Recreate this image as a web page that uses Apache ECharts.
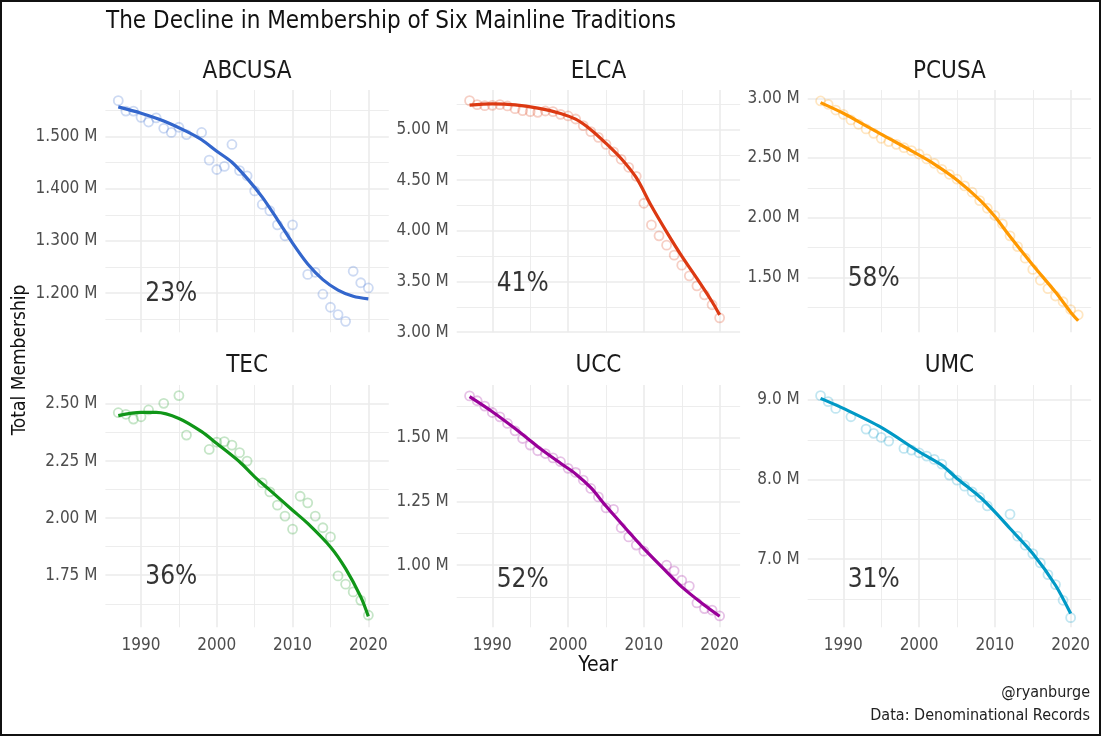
<!DOCTYPE html>
<html>
<head>
<meta charset="utf-8">
<script src="https://cdn.jsdelivr.net/npm/echarts@6/dist/echarts.min.js"></script>
<style>
  html, body { margin: 0; padding: 0; background: #fff; }
  #chart { position: absolute; left: 0; top: 0; width: 1101px; height: 736px; }
  #frame { position: absolute; left: 0; top: 0; width: 1101px; height: 736px;
           box-sizing: border-box; border: 2px solid #111; pointer-events: none; }
</style>
</head>
<body>
<div id="chart"></div>
<div id="frame"></div>
<script>
// membership in millions, null = no record that year
var years = [1987, 1988, 1989, 1990, 1991, 1992, 1993, 1994, 1995, 1996, 1997, 1998,
             1999, 2000, 2001, 2002, 2003, 2004, 2005, 2006, 2007, 2008, 2009, 2010,
             2011, 2012, 2013, 2014, 2015, 2016, 2017, 2018, 2019, 2020, 2021];

var names = ['ABCUSA', 'ELCA', 'PCUSA', 'TEC', 'UCC', 'UMC'];
var colors = ['#3366CC', '#DC3912', '#FF9900', '#109618', '#990099', '#0099C6'];
var dots = ['rgba(51,102,204,0.3)', 'rgba(220,57,18,0.3)', 'rgba(255,153,0,0.3)',
            'rgba(16,150,24,0.3)', 'rgba(153,0,153,0.3)', 'rgba(0,153,198,0.3)'];

var abcusa = [1.569, 1.549, 1.549, 1.537, 1.528, 1.536, 1.516, 1.508, 1.518, 1.504, null, 1.508,
              1.455, 1.437, 1.443, 1.485, 1.435, 1.425, 1.396, 1.370, 1.358, 1.331, 1.310, 1.331,
              null, 1.236, 1.240, 1.198, 1.173, 1.159, 1.146, 1.242, 1.220, 1.210, null];
var elca = [5.286, 5.247, 5.237, 5.240, 5.247, 5.234, 5.207, 5.188, 5.178, 5.171, 5.184, 5.178,
            5.151, 5.135, 5.105, 5.039, 4.980, 4.924, 4.855, 4.780, 4.707, 4.628, 4.539, 4.273,
            4.059, 3.951, 3.859, 3.760, 3.661, 3.556, 3.457, 3.368, 3.270, 3.141, null];
var pcusa = [2.978, 2.950, 2.902, 2.866, 2.819, 2.783, 2.744, 2.707, 2.665, 2.638, 2.615, 2.587,
             2.562, 2.534, 2.493, 2.456, 2.406, 2.364, 2.323, 2.267, 2.214, 2.144, 2.080, 2.019,
             1.949, 1.849, 1.759, 1.662, 1.568, 1.477, 1.407, 1.345, 1.297, 1.232, 1.188];
var tec = [2.462, 2.455, 2.434, 2.444, 2.474, null, 2.503, null, 2.537, 2.364, null, null,
           2.301, 2.333, 2.335, 2.320, 2.287, 2.250, null, 2.155, 2.115, 2.057, 2.009, 1.952,
           2.096, 2.067, 2.009, 1.958, 1.918, 1.747, 1.711, 1.677, 1.640, 1.575, null];
var ucc = [1.664, 1.645, 1.624, 1.599, 1.582, 1.556, 1.527, 1.497, 1.471, 1.449, 1.438, 1.421,
           1.406, 1.380, 1.364, 1.334, 1.301, 1.268, 1.225, 1.219, 1.147, 1.111, 1.079, 1.055,
           null, null, 1.000, 0.978, 0.941, 0.918, 0.852, 0.830, 0.824, 0.801, null];
var umc = [9.055, 8.979, 8.895, null, 8.790, null, 8.635, 8.581, 8.530, 8.484, null, 8.392,
           8.371, 8.337, 8.296, 8.254, 8.195, 8.057, 7.994, 7.918, 7.847, 7.776, 7.671, null,
           null, 7.566, 7.289, 7.176, 7.071, 6.954, 6.807, 6.681, 6.484, 6.266, null];

// smoothed trend
var abcusaFit = [[1987, 1.557], [1990, 1.545], [1993, 1.530], [1996, 1.510], [1998, 1.494],
                 [2000, 1.472], [2002, 1.451], [2004, 1.420], [2006, 1.384], [2008, 1.341],
                 [2010, 1.296], [2012, 1.256], [2014, 1.226], [2016, 1.206], [2018, 1.194],
                 [2020, 1.189]];
var elcaFit = [[1987, 5.243], [1990, 5.255], [1993, 5.245], [1996, 5.212], [1999, 5.160],
               [2001, 5.103], [2003, 5.000], [2005, 4.865], [2007, 4.715], [2009, 4.525],
               [2011, 4.245], [2013, 3.990], [2015, 3.750], [2017, 3.530], [2019, 3.300],
               [2020, 3.170]];
var pcusaFit = [[1987, 2.964], [1990, 2.875], [1993, 2.770], [1996, 2.665], [1999, 2.560],
                [2002, 2.450], [2005, 2.317], [2008, 2.150], [2010, 2.010], [2012, 1.843],
                [2015, 1.605], [2018, 1.378], [2020, 1.210], [2021, 1.138]];
var tecFit = [[1987, 2.449], [1990, 2.463], [1992, 2.463], [1995, 2.437], [1998, 2.379],
              [2000, 2.327], [2003, 2.247], [2005, 2.181], [2007, 2.123], [2010, 2.035],
              [2012, 1.977], [2015, 1.874], [2017, 1.779], [2019, 1.655], [2020, 1.570]];
var uccFit = [[1987, 1.661], [1990, 1.602], [1993, 1.536], [1996, 1.465], [1999, 1.400],
              [2001, 1.358], [2003, 1.304], [2005, 1.232], [2008, 1.131], [2010, 1.065],
              [2013, 0.974], [2015, 0.915], [2018, 0.843], [2020, 0.800]];
var umcFit = [[1987, 9.021], [1990, 8.895], [1995, 8.656], [2000, 8.350], [2003, 8.182],
              [2005, 8.015], [2008, 7.784], [2010, 7.595], [2012, 7.386], [2015, 7.071],
              [2018, 6.673], [2020, 6.317]];

var pctText = ['23%', '41%', '58%', '36%', '52%', '31%'];
var pctYear = 1994;
var pctValue = [1.197, 3.477, 1.489, 1.743, 0.941, 6.736];

// y scales (panel extents, labelled and in-between grid values)
var yMin = [1.125, 2.998, 1.0414, 1.522, 0.7565, 6.1447];
var yMax = [1.5894, 5.3915, 3.0697, 2.5833, 1.7068, 9.1887];
var yMajor = [[1.2, 1.3, 1.4, 1.5], [3.0, 3.5, 4.0, 4.5, 5.0], [1.5, 2.0, 2.5, 3.0],
              [1.75, 2.0, 2.25, 2.5], [1.0, 1.25, 1.5], [7, 8, 9]];
var yMinor = [[1.15, 1.25, 1.35, 1.45, 1.55], [3.25, 3.75, 4.25, 4.75, 5.25], [1.25, 1.75, 2.25, 2.75],
              [1.625, 1.875, 2.125, 2.375], [0.875, 1.125, 1.375, 1.625], [6.5, 7.5, 8.5]];
var yDigits = [3, 2, 2, 2, 2, 1];
var xMajor = [1990, 2000, 2010, 2020];
var xMinor = [1995, 2005, 2015];

var values = [abcusa, elca, pcusa, tec, ucc, umc];
var fits = [abcusaFit, elcaFit, pcusaFit, tecFit, uccFit, umcFit];

var FONT = "'Liberation Sans Narrow', 'DejaVu Sans Condensed', 'Roboto', sans-serif";
var colLeft = [105.4, 456.7, 807.7];
var rowTop = [90, 385];
var panelW = 283.4, panelH = 242.3;

var grids = [], xAxes = [], yAxes = [], series = [], graphics = [];

for (var i = 0; i < 6; i++) {
    var col = i % 3, row = Math.floor(i / 3);
    grids.push({ left: colLeft[col], top: rowTop[row], width: panelW, height: panelH });

    var xBase = { gridIndex: i, type: 'value', min: 1985.3, max: 2022.7,
                  axisLine: { show: false }, axisTick: { show: false } };
    xAxes.push(Object.assign({}, xBase, {
        axisTick: { show: false, customValues: xMajor },
        axisLabel: { show: row === 1, customValues: xMajor, color: '#4d4d4d',
                     fontSize: 17, fontFamily: FONT, margin: 10,
                     formatter: function (v) { return String(v); } },
        splitLine: { show: true, lineStyle: { color: '#ebebeb', width: 1.6 } }
    }));
    xAxes.push(Object.assign({}, xBase, {
        position: 'top',
        axisTick: { show: false, customValues: xMinor },
        axisLabel: { show: false },
        splitLine: { show: true, lineStyle: { color: '#ebebeb', width: 0.9 } }
    }));

    var yBase = { gridIndex: i, type: 'value', min: yMin[i], max: yMax[i],
                  axisLine: { show: false } };
    (function (d) {
        yAxes.push(Object.assign({}, yBase, {
            axisTick: { show: false, customValues: yMajor[i] },
            axisLabel: { customValues: yMajor[i], color: '#4d4d4d', fontSize: 17,
                         fontFamily: FONT, margin: 8,
                         formatter: function (v) { return v.toFixed(d) + ' M'; } },
            splitLine: { show: true, lineStyle: { color: '#ebebeb', width: 1.6 } }
        }));
    })(yDigits[i]);
    yAxes.push(Object.assign({}, yBase, {
        position: 'right',
        axisTick: { show: false, customValues: yMinor[i] },
        axisLabel: { show: false },
        splitLine: { show: true, lineStyle: { color: '#ebebeb', width: 0.9 } }
    }));

    var pts = [];
    for (var k = 0; k < years.length; k++) {
        if (values[i][k] !== null) pts.push([years[k], values[i][k]]);
    }
    series.push({
        type: 'scatter', xAxisIndex: 2 * i, yAxisIndex: 2 * i, data: pts,
        symbol: 'circle', symbolSize: 9, silent: true, z: 2,
        itemStyle: { color: 'rgba(0,0,0,0)', borderColor: dots[i], borderWidth: 1.8 }
    });
    series.push({
        type: 'line', xAxisIndex: 2 * i, yAxisIndex: 2 * i, data: fits[i],
        smooth: 0.3, showSymbol: false, silent: true, z: 3,
        lineStyle: { color: colors[i], width: 3.2 }
    });
    series.push({
        type: 'scatter', xAxisIndex: 2 * i, yAxisIndex: 2 * i,
        data: [[pctYear, pctValue[i]]], symbolSize: 0, silent: true, z: 4,
        label: { show: true, position: 'inside', formatter: pctText[i],
                 fontSize: 26, color: '#000', textBorderWidth: 0, fontFamily: FONT }
    });

    graphics.push({
        type: 'text', x: colLeft[col] + panelW / 2, y: row === 0 ? 72 : 366, silent: true,
        style: { text: names[i], font: '24px ' + FONT, fill: '#1a1a1a',
                 textAlign: 'center', textVerticalAlign: 'middle' }
    });
}

graphics.push({ type: 'text', x: 106, y: 22, silent: true,
    style: { text: 'The Decline in Membership of Six Mainline Traditions', font: '24px ' + FONT,
             fill: '#111', textAlign: 'left', textVerticalAlign: 'middle' } });
graphics.push({ type: 'text', x: 20, y: 360, rotation: Math.PI / 2, silent: true,
    style: { text: 'Total Membership', font: '19px ' + FONT, fill: '#111',
             textAlign: 'center', textVerticalAlign: 'middle' } });
graphics.push({ type: 'text', x: 598, y: 666, silent: true,
    style: { text: 'Year', font: '21px ' + FONT, fill: '#111',
             textAlign: 'center', textVerticalAlign: 'middle' } });
graphics.push({ type: 'text', x: 1090, y: 693, silent: true,
    style: { text: '@ryanburge', font: '16px ' + FONT, fill: '#222',
             textAlign: 'right', textVerticalAlign: 'middle' } });
graphics.push({ type: 'text', x: 1090, y: 716, silent: true,
    style: { text: 'Data: Denominational Records', font: '16px ' + FONT, fill: '#222',
             textAlign: 'right', textVerticalAlign: 'middle' } });

var myChart = echarts.init(document.getElementById('chart'), null, { renderer: 'canvas' });
myChart.setOption({
    backgroundColor: '#ffffff',
    animation: false,
    grid: grids,
    xAxis: xAxes,
    yAxis: yAxes,
    series: series,
    graphic: graphics
});
</script>
</body>
</html>
